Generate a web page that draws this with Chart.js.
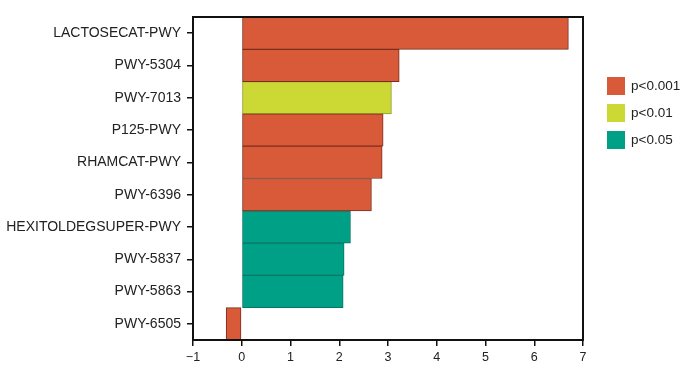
<!DOCTYPE html>
<html>
<head>
<meta charset="utf-8">
<script src="https://cdn.jsdelivr.net/npm/chart.js@4"></script>
<style>
  body { margin: 0; background: #fff; }
  #wrap { position: relative; width: 685px; height: 367px; }
  #legend { position: absolute; left: 607px; top: 77px; font-family: 'Liberation Sans', Arial, sans-serif; font-size: 13.5px; color: #222; }
  #legend div { height: 27px; display: flex; align-items: flex-start; }
  #legend span.box { display: inline-block; width: 18px; height: 18px; margin-right: 6px; }
  #legend span.txt { line-height: 18px; }
</style>
</head>
<body>
<div id="wrap">
  <canvas id="pwyChart" width="685" height="367"></canvas>
  <div id="legend"></div>
</div>
<script>
const pathways = ['LACTOSECAT-PWY', 'PWY-5304', 'PWY-7013', 'P125-PWY', 'RHAMCAT-PWY',
    'PWY-6396', 'HEXITOLDEGSUPER-PWY', 'PWY-5837', 'PWY-5863', 'PWY-6505'];
const scores = [6.70, 3.23, 3.07, 2.90, 2.88, 2.66, 2.23, 2.10, 2.08, -0.32];
const pGroup = ['p<0.001', 'p<0.001', 'p<0.01', 'p<0.001', 'p<0.001',
    'p<0.001', 'p<0.05', 'p<0.05', 'p<0.05', 'p<0.001'];
const groups = ['p<0.001', 'p<0.01', 'p<0.05'];
const xTicks = [-1, 0, 1, 2, 3, 4, 5, 6, 7];

const fills = ['#d95a38', '#ccd934', '#00a086'];
const edges = ['#7a2e1e', '#8f9a26', '#0a7563'];

// one dataset per significance level, nulls where the bar belongs to another level
const datasets = groups.map((g, i) => ({
    label: g,
    data: scores.map((v, j) => pGroup[j] === g ? v : null),
    backgroundColor: fills[i],
    borderColor: edges[i],
    borderWidth: 1,
    borderSkipped: false,
    grouped: false,
    barPercentage: 1,
    categoryPercentage: 1,
}));

const boxPlugin = {
    id: 'box',
    afterDraw(chart) {
        const a = chart.chartArea;
        const c = chart.ctx;
        c.save();
        c.strokeStyle = '#111';
        c.lineWidth = 2;
        c.strokeRect(a.left, a.top, a.right - a.left, a.bottom - a.top);
        c.restore();
    }
};

const ctx = document.getElementById('pwyChart').getContext('2d');
new Chart(ctx, {
    type: 'bar',
    data: { labels: pathways, datasets: datasets },
    options: {
        indexAxis: 'y',
        responsive: false,
        animation: false,
        layout: { padding: { top: 17, right: 102, left: 0, bottom: 0 } },
        plugins: {
            legend: { display: false },
            tooltip: { enabled: false },
        },
        scales: {
            x: {
                min: -1,
                max: 7,
                afterBuildTicks: (s) => { s.ticks = xTicks.map(v => ({ value: v })); },
                afterFit: (s) => { s.height = 27; },
                grid: { drawOnChartArea: false, tickLength: 6, color: '#111', lineWidth: 1.5 },
                border: { color: '#111', width: 2 },
                ticks: {
                    color: '#222',
                    padding: 4,
                    font: { family: "'Liberation Sans', Arial, sans-serif", size: 12.5 },
                    callback: (v) => v < 0 ? '\u2212' + Math.abs(v) : v,
                },
            },
            y: {
                afterFit: (s) => { s.width = 193; },
                grid: { drawOnChartArea: false, offset: false, tickLength: 6, color: '#111', lineWidth: 1.5 },
                border: { color: '#111', width: 2 },
                ticks: {
                    color: '#222',
                    padding: 6,
                    font: { family: "'Liberation Sans', Arial, sans-serif", size: 14 },
                },
            },
        },
    },
    plugins: [boxPlugin],
});

const legendEl = document.getElementById('legend');
groups.forEach((g, i) => {
    const row = document.createElement('div');
    row.innerHTML = '<span class="box" style="background:' + fills[i] + '"></span><span class="txt">' + g.replace('<', '&lt;') + '</span>';
    legendEl.appendChild(row);
});
</script>
</body>
</html>
